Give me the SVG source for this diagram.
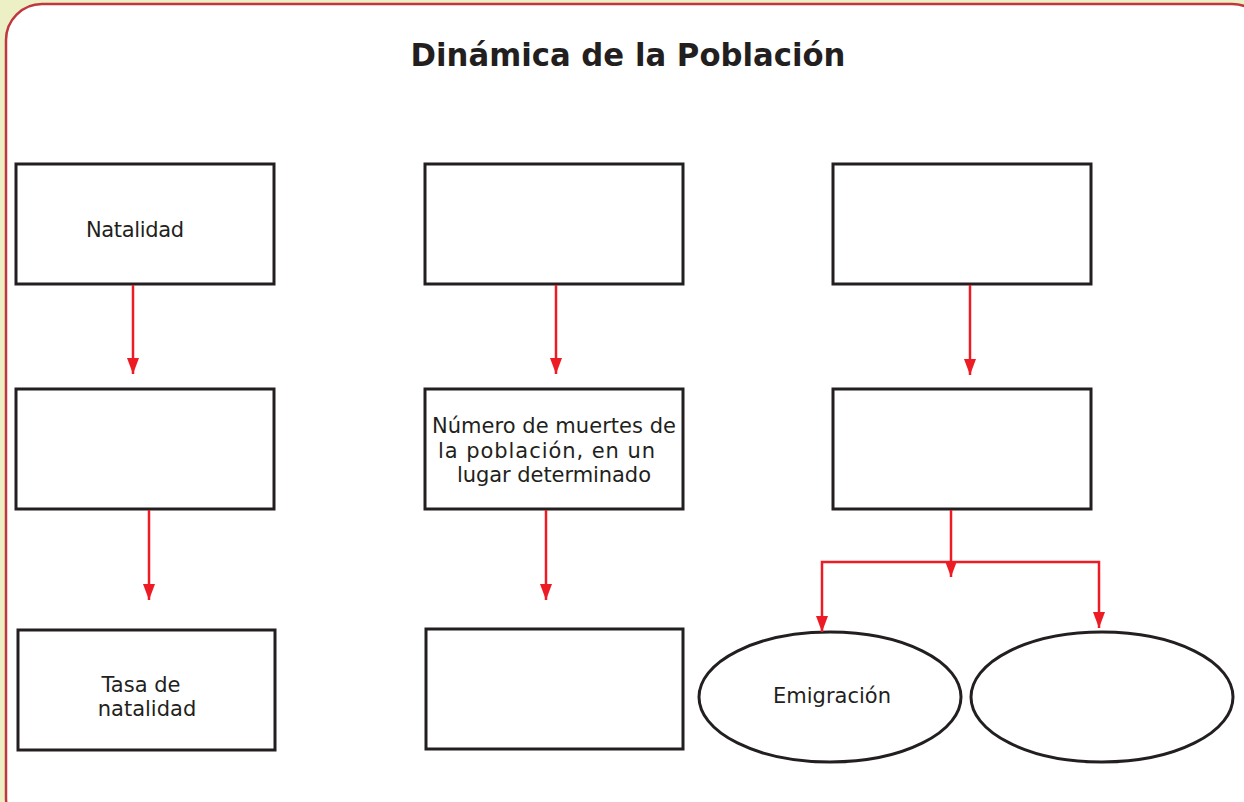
<svg xmlns="http://www.w3.org/2000/svg" width="1244" height="802" viewBox="0 0 1244 802">
<style>
.box{fill:#fff;stroke:#231f20;stroke-width:3}
.t{font-family:"DejaVu Sans",sans-serif;font-size:21px;fill:#231f20;text-anchor:middle}
.c{fill:none;stroke:#ed1c24;stroke-width:2.5}
</style>
<defs>
<marker id="ad" markerWidth="12" markerHeight="16" refX="6" refY="16" orient="0" markerUnits="userSpaceOnUse" viewBox="0 0 12 16">
<path d="M0,0 L12,0 L6,16 Z" fill="#ed1c24"/>
</marker>
</defs>
<rect x="0" y="0" width="1244" height="802" fill="#edf0c4"/>
<rect x="6" y="4" width="1262" height="830" rx="36" fill="#fff" stroke="#c1373e" stroke-width="2.5"/>
<text x="628" y="66" font-family="DejaVu Sans,sans-serif" font-weight="bold" font-size="32" fill="#231f20" text-anchor="middle" textLength="435" lengthAdjust="spacingAndGlyphs">Dinámica de la Población</text>

<g id="n1"><rect class="box" x="16" y="164" width="258" height="120"/><text class="t" x="135" y="237" textLength="98">Natalidad</text></g>
<g id="n2"><rect class="box" x="425" y="164" width="258" height="120"/></g>
<g id="n3"><rect class="box" x="833" y="164" width="258" height="120"/></g>
<g id="n4"><rect class="box" x="16" y="389" width="258" height="120"/></g>
<g id="n5"><rect class="box" x="425" y="389" width="258" height="120"/><text class="t" x="554" y="433" textLength="244">Número de muertes de</text><text class="t" x="546.5" y="458" textLength="217">la población, en un</text><text class="t" x="554" y="482" textLength="194">lugar determinado</text></g>
<g id="n6"><rect class="box" x="833" y="389" width="258" height="120"/></g>
<g id="n7"><rect class="box" x="18" y="630" width="257" height="120"/><text class="t" x="141" y="692">Tasa de</text><text class="t" x="147" y="716">natalidad</text></g>
<g id="n8"><rect class="box" x="426" y="629" width="257" height="120"/></g>
<g id="n9"><ellipse class="box" cx="830" cy="697" rx="131" ry="65"/><text class="t" x="832" y="703">Emigración</text></g>
<g id="n10"><ellipse class="box" cx="1102" cy="697" rx="131" ry="65"/></g>

<g id="connectors">
<path class="c" d="M133,285 V374" marker-end="url(#ad)"/>
<path class="c" d="M149,510 V600" marker-end="url(#ad)"/>
<path class="c" d="M556,285 V374" marker-end="url(#ad)"/>
<path class="c" d="M546,510 V600" marker-end="url(#ad)"/>
<path class="c" d="M970,285 V375" marker-end="url(#ad)"/>
<path class="c" d="M951,510 V577" marker-end="url(#ad)"/>
<path class="c" d="M822,632 V562 H1099 V628"/>
<path d="M816,616 L828,616 L822,632 Z M1093,612 L1105,612 L1099,628 Z" fill="#ed1c24"/>
</g>
</svg>
